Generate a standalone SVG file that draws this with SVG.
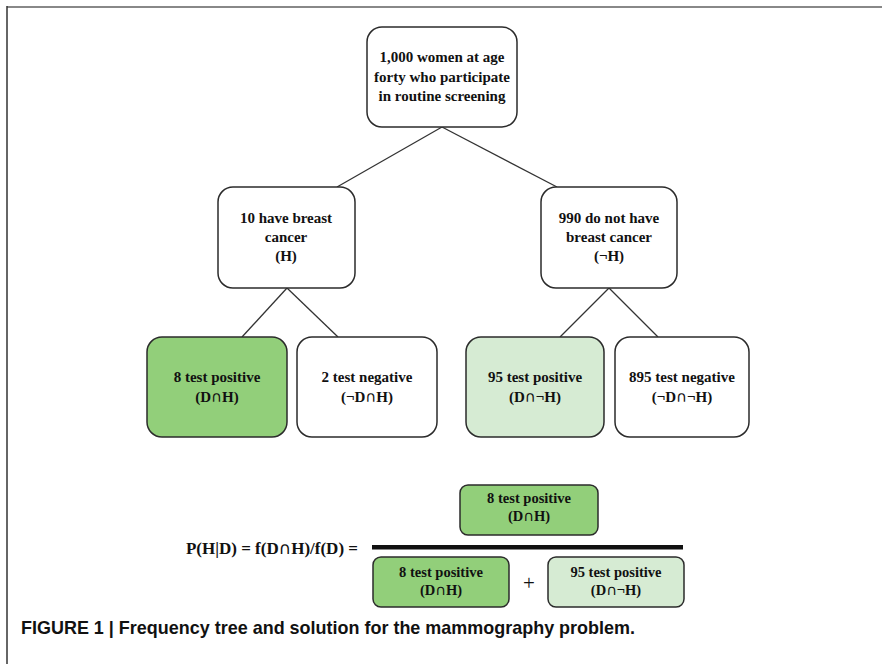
<svg xmlns="http://www.w3.org/2000/svg" width="882" height="664" viewBox="0 0 882 664">
<style>
.node{fill:#fff;stroke:#2b2b2b;stroke-width:1.5}
.dk{fill:#92cf7a}
.lt{fill:#d6ebd3}
.t{font-family:"Liberation Serif","Times New Roman",serif;font-weight:bold;font-size:15px;fill:#111;text-anchor:middle}
.s{font-size:14.5px}
.cap{font-family:"DejaVu Sans",sans-serif;font-weight:normal}
.c{stroke:#333;stroke-width:1.3;fill:none}
</style>
<rect width="882" height="664" fill="#fff"/>
<line x1="7" y1="7" x2="882" y2="7" stroke="#888" stroke-width="2"/>
<line x1="7" y1="6" x2="7" y2="664" stroke="#333" stroke-width="1.5"/>
<g id="connectors">
<line class="c" x1="442" y1="127" x2="337" y2="187"/>
<line class="c" x1="442" y1="127" x2="557" y2="187"/>
<line class="c" x1="287" y1="288" x2="242" y2="337"/>
<line class="c" x1="287" y1="288" x2="338" y2="337"/>
<line class="c" x1="609" y1="288" x2="560" y2="337"/>
<line class="c" x1="609" y1="288" x2="658" y2="337"/>
</g>
<g id="root">
<rect class="node" x="367" y="27" width="150" height="100" rx="15"/>
<text class="t" x="442" y="62">1,000 women at age</text>
<text class="t" x="442" y="82">forty who participate</text>
<text class="t" x="442" y="101">in routine screening</text>
</g>
<g id="h">
<rect class="node" x="218" y="187" width="137" height="101" rx="15"/>
<text class="t" x="286" y="223">10 have breast</text>
<text class="t" x="286" y="242">cancer</text>
<text class="t" x="286" y="261">(H)</text>
</g>
<g id="noth">
<rect class="node" x="541" y="187" width="136" height="101" rx="15"/>
<text class="t" x="609" y="223">990 do not have</text>
<text class="t" x="609" y="242">breast cancer</text>
<text class="t" x="609" y="261">(¬H)</text>
</g>
<g id="dh">
<rect class="node dk" x="147" y="337" width="140" height="100" rx="15"/>
<text class="t" x="217" y="382">8 test positive</text>
<text class="t" x="217" y="402">(D<tspan class="cap">∩</tspan>H)</text>
</g>
<g id="notdh">
<rect class="node" x="297" y="337" width="140" height="100" rx="15"/>
<text class="t" x="367" y="382">2 test negative</text>
<text class="t" x="367" y="402">(¬D<tspan class="cap">∩</tspan>H)</text>
</g>
<g id="dnoth">
<rect class="node lt" x="466" y="337" width="138" height="100" rx="15"/>
<text class="t" x="535" y="382">95 test positive</text>
<text class="t" x="535" y="402">(D<tspan class="cap">∩</tspan>¬H)</text>
</g>
<g id="notdnoth">
<rect class="node" x="615" y="337" width="134" height="100" rx="15"/>
<text class="t" x="682" y="382">895 test negative</text>
<text class="t" x="682" y="402">(¬D<tspan class="cap">∩</tspan>¬H)</text>
</g>
<g id="formula">
<text class="t" x="358" y="554" style="text-anchor:end;font-size:17px">P(H|D) = f(D<tspan class="cap">∩</tspan>H)/f(D) =</text>
<rect x="372" y="545" width="311" height="4.5" fill="#111"/>
<text class="t" x="529" y="590" style="font-size:21px;font-weight:normal">+</text>
</g>
<g id="num">
<rect class="node dk" x="460" y="485" width="138" height="50" rx="8"/>
<text class="t s" x="529" y="503">8 test positive</text>
<text class="t s" x="529" y="521">(D<tspan class="cap">∩</tspan>H)</text>
</g>
<g id="den1">
<rect class="node dk" x="373" y="557" width="136" height="50" rx="8"/>
<text class="t s" x="441" y="577">8 test positive</text>
<text class="t s" x="441" y="595">(D<tspan class="cap">∩</tspan>H)</text>
</g>
<g id="den2">
<rect class="node lt" x="548" y="557" width="136" height="50" rx="8"/>
<text class="t s" x="616" y="577">95 test positive</text>
<text class="t s" x="616" y="595">(D<tspan class="cap">∩</tspan>¬H)</text>
</g>
<text x="21" y="634" font-family="Liberation Sans, Arial, sans-serif" font-weight="bold" font-size="19" fill="#111" textLength="614" lengthAdjust="spacingAndGlyphs">FIGURE 1 | Frequency tree and solution for the mammography problem.</text>
</svg>
